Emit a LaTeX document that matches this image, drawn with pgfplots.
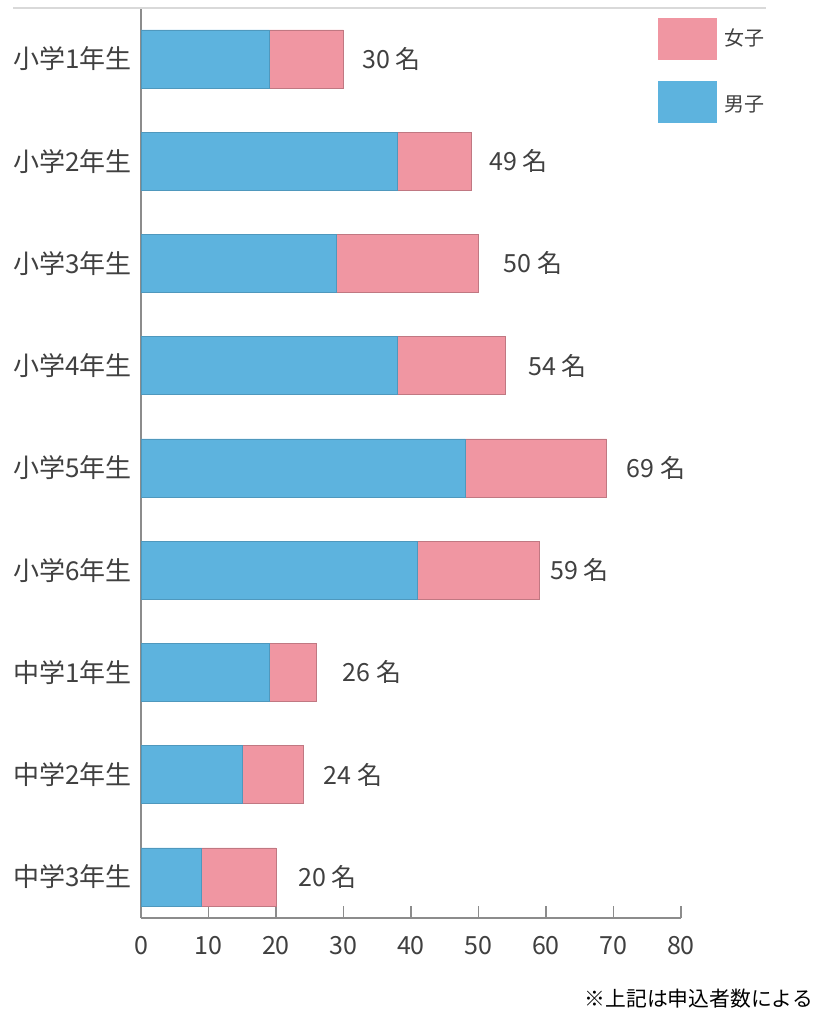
\documentclass[border=0pt]{standalone}
\usepackage{fontspec}
\setmainfont{Noto Sans CJK JP}
\usepackage{pgfplots}
\usepackage{pgfplotstable}
\pgfplotsset{compat=1.18}
\definecolor{boy}{HTML}{5DB3DE}
\definecolor{girl}{HTML}{F096A2}
\definecolor{txt}{HTML}{404040}
\definecolor{axc}{HTML}{8C8C8C}

% gap: distance (pt) between bar end and its label
\pgfplotstableread{
y male female total gap
0 9  11 20 11.15
1 15 9  24 10.3
2 19 7  26 13
3 41 18 59 5.35
4 48 21 69 9.85
5 38 16 54 11.3
6 29 21 50 12.5
7 38 11 49 8.8
8 19 11 30 9.35
}\data

\begin{document}
\begin{tikzpicture}
\begin{axis}[
  scale only axis, width=270pt, height=455pt,
  xbar stacked, bar width=29pt,
  xmin=0, xmax=80, ymin=-0.4, ymax=8.5,
  axis lines*=left,
  axis line style={axc, line width=0.8pt},
  xtick={0,10,...,80}, tick align=inside, major tick length=6pt,
  xtick style={axc, line width=0.8pt},
  ytick={0,...,8},
  yticklabels={中学3年生,中学2年生,中学1年生,小学6年生,小学5年生,小学4年生,小学3年生,小学2年生,小学1年生},
  ytick style={draw=none},
  tick label style={text=txt},
  xticklabel style={yshift=-5.5pt, font=\fontsize{12.5}{14}\selectfont},
  yticklabel style={xshift=-1pt, font=\fontsize{13}{15}\selectfont},
  /pgf/number format/assume math mode=true,
  clip=false,
]
\addplot[fill=boy, draw=boy!85!black, line width=0.4pt] table[x=male, y=y]{\data};
\addplot[fill=girl, draw=girl!80!black, line width=0.4pt,
  point meta=explicit,
  visualization depends on={\thisrow{female} \as \fem},
  visualization depends on={\thisrow{gap} \as \gap},
  nodes near coords={\pgfmathprintnumber{\pgfplotspointmeta} 名},
  nodes near coords style={anchor=west, xshift={1.6875pt*\fem+\gap pt-3.4pt}, text=txt, font=\fontsize{12.5}{14}\selectfont}]
  table[x=female, y=y, meta=total]{\data};

\draw[black!15, line width=0.8pt] (axis cs:-18.96,8.5) -- (axis cs:92.6,8.5);
\fill[girl] (axis cs:76.6,8.401) rectangle (axis cs:85.33,7.99);
\fill[boy] (axis cs:76.6,7.785) rectangle (axis cs:85.33,7.377);
\node[anchor=west, inner sep=0, text=txt, font=\fontsize{10}{12}\selectfont] at (axis cs:86.4,8.205) {女子};
\node[anchor=west, inner sep=0, text=txt, font=\fontsize{10}{12}\selectfont] at (axis cs:86.4,7.56) {男子};
\node[anchor=east, inner sep=0, text=black, font=\fontsize{10.4}{12}\selectfont] at (axis cs:99.6,-1.19) {※上記は申込者数による};
\path (axis cs:-20.89,8.577) rectangle (axis cs:100.3,-1.311);
\end{axis}
\end{tikzpicture}
\end{document}
